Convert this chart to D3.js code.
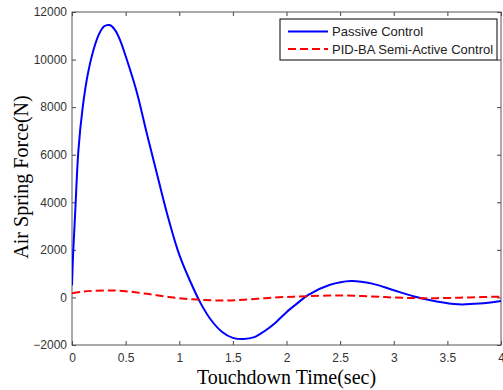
<!DOCTYPE html>
<html>
<head>
<meta charset="utf-8">
<script src="https://cdn.jsdelivr.net/npm/d3@7"></script>
<style>
  body { margin: 0; background: #fff; }
  svg { display: block; }
  .tick text { font-family: Arial, "Liberation Sans", sans-serif; font-size: 12px; fill: #333; }
</style>
</head>
<body>
<div id="chart"></div>
<script>
// touchdown time (sec) and air spring force (N)
var passiveTime = [0, 0.01, 0.03, 0.06, 0.1, 0.15, 0.2, 0.25, 0.3, 0.35, 0.4, 0.45, 0.5, 0.6, 0.7, 0.8, 0.9, 1.0, 1.1, 1.2, 1.3, 1.4, 1.5, 1.6, 1.7, 1.8, 1.9, 2.0, 2.1, 2.2, 2.4, 2.6, 2.8, 3.0, 3.2, 3.4, 3.6, 3.8, 4.0];
var passiveForce = [500, 1800, 3600, 6200, 8000, 9450, 10400, 11050, 11400, 11450, 11250, 10800, 10150, 8700, 6850, 5050, 3300, 1800, 700, -250, -970, -1450, -1700, -1750, -1670, -1400, -1050, -620, -250, 100, 520, 690, 580, 300, 30, -170, -290, -260, -150];

var semiTime = [0, 0.1, 0.2, 0.35, 0.5, 0.7, 0.9, 1.1, 1.3, 1.45, 1.6, 1.8, 2.0, 2.2, 2.5, 2.8, 3.1, 3.4, 3.7, 4.0];
var semiForce = [170, 240, 280, 295, 260, 150, 20, -70, -120, -125, -95, -30, 20, 55, 85, 40, -20, -30, 0, 35];

var xTicks = [0, 0.5, 1, 1.5, 2, 2.5, 3, 3.5, 4];
var yTicks = [-2000, 0, 2000, 4000, 6000, 8000, 10000, 12000];
var seriesNames = ["Passive Control", "PID-BA Semi-Active Control"];

var width = 503, height = 390;
var margin = {top: 12, right: 2, bottom: 45, left: 72};
var w = width - margin.left - margin.right;
var h = height - margin.top - margin.bottom;

var svg = d3.select("#chart").append("svg")
    .attr("width", width)
    .attr("height", height);

var g = svg.append("g")
    .attr("transform", "translate(" + margin.left + "," + margin.top + ")");

var x = d3.scaleLinear().domain([0, 4]).range([0, w]);
var y = d3.scaleLinear().domain([-2000, 12000]).range([h, 0]);

function styleAxis(sel, hideText) {
    sel.select(".domain").remove();
    sel.selectAll(".tick line").attr("stroke", "#444");
    if (hideText) sel.selectAll(".tick text").remove();
}

// axes with inward ticks, mirrored on top/right
g.append("g").attr("transform", "translate(0," + h + ")")
    .call(d3.axisBottom(x).tickValues(xTicks).tickSize(-4).tickPadding(8).tickFormat(d3.format("")))
    .call(styleAxis);
g.append("g")
    .call(d3.axisTop(x).tickValues(xTicks).tickSize(-4))
    .call(styleAxis, true);
g.append("g")
    .call(d3.axisLeft(y).tickValues(yTicks).tickSize(-4).tickPadding(5).tickFormat(d3.format("")))
    .call(styleAxis);
g.append("g").attr("transform", "translate(" + w + ",0)")
    .call(d3.axisRight(y).tickValues(yTicks).tickSize(-4))
    .call(styleAxis, true);

g.append("rect")
    .attr("width", w).attr("height", h)
    .attr("fill", "none").attr("stroke", "#555").attr("stroke-width", 1);

g.append("clipPath").attr("id", "clip")
    .append("rect").attr("width", w).attr("height", h);

var line = d3.line()
    .x(function (d) { return x(d[0]); })
    .y(function (d) { return y(d[1]); })
    .curve(d3.curveCatmullRom);

var passive = d3.zip(passiveTime, passiveForce);
var semi = d3.zip(semiTime, semiForce);

g.append("path")
    .datum(passive)
    .attr("clip-path", "url(#clip)")
    .attr("d", line)
    .attr("fill", "none")
    .attr("stroke", "#0000ff")
    .attr("stroke-width", 2);

g.append("path")
    .datum(semi)
    .attr("clip-path", "url(#clip)")
    .attr("d", line)
    .attr("fill", "none")
    .attr("stroke", "#ff0000")
    .attr("stroke-width", 2)
    .attr("stroke-dasharray", "8,4");

// axis titles
svg.append("text")
    .attr("x", margin.left + w / 2)
    .attr("y", 384)
    .attr("text-anchor", "middle")
    .attr("font-family", "'Times New Roman', 'Liberation Serif', serif")
    .attr("font-size", 20)
    .text("Touchdown Time(sec)");

svg.append("text")
    .attr("transform", "translate(28,177) rotate(-90)")
    .attr("text-anchor", "middle")
    .attr("font-family", "'Times New Roman', 'Liberation Serif', serif")
    .attr("font-size", 20)
    .text("Air Spring Force(N)");

// legend
var legend = svg.append("g").attr("transform", "translate(280,19)");
legend.append("rect")
    .attr("width", 217).attr("height", 41)
    .attr("fill", "#fff").attr("stroke", "#000").attr("stroke-width", 1);

var legendStyles = [
    {color: "#0000ff", dash: null},
    {color: "#ff0000", dash: "8,4"}
];
seriesNames.forEach(function (name, i) {
    var row = legend.append("g").attr("transform", "translate(0," + (12.5 + i * 17.5) + ")");
    row.append("line")
        .attr("x1", 8).attr("x2", 48)
        .attr("stroke", legendStyles[i].color)
        .attr("stroke-width", 2)
        .attr("stroke-dasharray", legendStyles[i].dash);
    row.append("text")
        .attr("x", 52)
        .attr("dy", "0.35em")
        .attr("font-family", "Arial, 'Liberation Sans', sans-serif")
        .attr("font-size", 13)
        .attr("fill", "#222")
        .text(name);
});
</script>
</body>
</html>
